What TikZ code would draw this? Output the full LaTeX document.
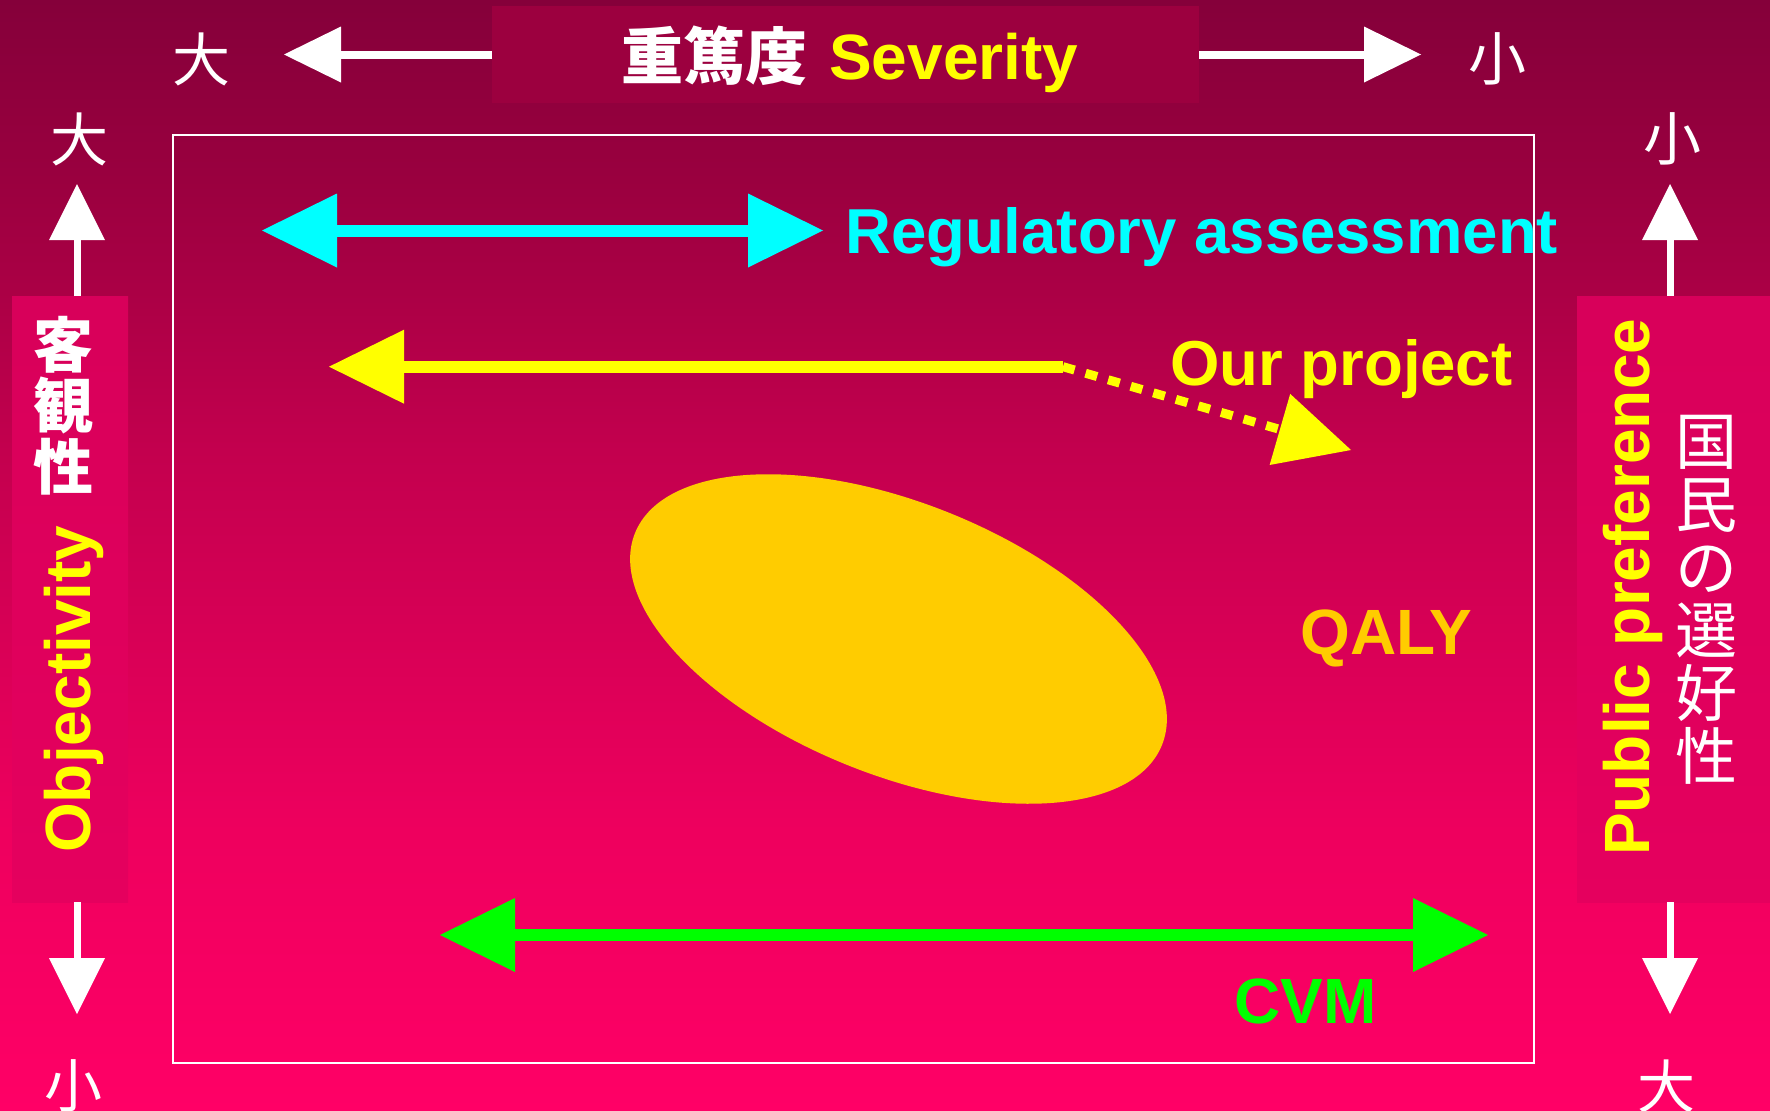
\documentclass[tikz,border=0pt]{standalone}
\usepackage{fontspec}
\setmainfont{Liberation Sans}
\newfontfamily\cjk{Noto Sans CJK JP}
\usetikzlibrary{arrows.meta,shapes.geometric}
\definecolor{bgtop}{HTML}{85003A}
\definecolor{bgca}{HTML}{9A003F}
\definecolor{bgcb}{HTML}{C3004E}
\definecolor{bgcc}{HTML}{EE005E}
\definecolor{bgbot}{HTML}{FF0066}
\definecolor{sdtop}{HTML}{D8005A}
\definecolor{sdbot}{HTML}{E5005E}
\definecolor{hdrbox}{HTML}{9C003F}
\definecolor{gold}{HTML}{FFCC00}
\definecolor{cyanc}{HTML}{00FFFF}
\definecolor{yellowc}{HTML}{FFFF00}
\definecolor{greenc}{HTML}{00FF00}
\pgfdeclareverticalshading{bgshade}{100bp}{color(0bp)=(bgbot); color(25bp)=(bgbot); color(37.6bp)=(bgcc); color(54.7bp)=(bgcb); color(66.9bp)=(bgca); color(75bp)=(bgtop); color(100bp)=(bgtop)}
\pgfdeclareverticalshading{sideshade}{100bp}{color(0bp)=(sdbot); color(25bp)=(sdbot); color(75bp)=(sdtop); color(100bp)=(sdtop)}
\tikzset{
  jlbl/.style={font=\cjk\fontsize{58}{58}\selectfont, text=white, inner sep=0pt},
  latin/.style={font=\bfseries\fontsize{64}{64}\selectfont, inner sep=0pt},
  darr/.style={line width=12pt, {Triangle[length=75pt,width=74pt,line width=0pt]}-{Triangle[length=75pt,width=74pt,line width=0pt]}},
  harr/.style={draw=white, line width=8pt, -{Triangle[length=57pt,width=56pt,line width=0pt]}},
  varr/.style={draw=white, line width=7pt, -{Triangle[length=56pt,width=56pt,line width=0pt]}},
  panel/.style={shading=sideshade, inner sep=0pt, outer sep=0pt, anchor=north west, minimum height=606pt},
}
\begin{document}
\begin{tikzpicture}[x=1pt,y=-1pt]
\fill[shading=bgshade] (0,0) rectangle (1770,1111);
\useasboundingbox (0,0) rectangle (1770,1111);

% header
\node[fill=hdrbox, minimum width=707pt, minimum height=97pt, inner sep=0pt, outer sep=0pt, anchor=north west] (hdr) at (492,6) {};
\node[anchor=base west, inner sep=0pt] (title) at (621,79)
  {{\cjk\bfseries\fontsize{62}{62}\selectfont\color{white}重篤度}\hspace{22pt}{\bfseries\fontsize{64}{64}\selectfont\color{yellowc}Severity}};
\coordinate (tl) at (284,54.5);
\coordinate (tr) at (1421,54.5);
\draw[harr] (hdr.west) -- (tl);
\draw[harr] (hdr.east) -- (tr);
\node[jlbl] (bigT) at (201,59) {大};
\node[jlbl] (smallT) at (1497,59) {小};

% frame
\node[draw=white, line width=2pt, minimum width=1361pt, minimum height=928pt, inner sep=0pt, anchor=north west] (frame) at (172,134) {};

% left panel
\node[panel, minimum width=116pt] (lbox) at (12,296) {};
\node[jlbl] (bigL) at (79,139) {大};
\node[jlbl] (smallL) at (73,1086) {小};
\coordinate (lup) at (77,184);
\coordinate (ldn) at (77,1014);
\draw[varr] (lbox.north -| lup) -- (lup);
\draw[varr] (lbox.south -| ldn) -- (ldn);
\node[font=\cjk\bfseries\fontsize{60}{61}\selectfont, text=white, inner sep=0pt, align=center] (objjp) at (64,406) {客\\観\\性};
\node[latin, text=yellowc, rotate=90, anchor=base west] (obj) at (90,853) {Objectivity};

% right panel
\node[panel, minimum width=193pt] (rbox) at (1577,296) {};
\node[jlbl] (smallR) at (1672,139) {小};
\node[jlbl] (bigR) at (1666,1086) {大};
\coordinate (rup) at (1670,184);
\coordinate (rdn) at (1670,1014);
\draw[varr] (rbox.north -| rup) -- (rup);
\draw[varr] (rbox.south -| rdn) -- (rdn);
\node[latin, text=yellowc, rotate=90, anchor=base west] (pub) at (1649,856) {Public preference};
\node[font=\cjk\fontsize{62}{63}\selectfont, text=white, inner sep=0pt, align=center] (pubjp) at (1706,600) {国\\民\\の\\選\\好\\性};

% regulatory assessment
\coordinate (cyl) at (262,230.5);
\coordinate (cyr) at (823,230.5);
\draw[darr, cyanc] (cyl) -- (cyr);
\node[latin, font=\bfseries\fontsize{63.5}{64}\selectfont, text=cyanc, anchor=base west] (reg) at (845,253) {Regulatory assessment};

% our project
\coordinate (yl) at (329,366.7);
\coordinate (ybend) at (1063,366.7);
\coordinate (ytip) at (1351,450);
\draw[yellowc, line width=12pt, {Triangle[length=75pt,width=74pt,line width=0pt]}-] (yl) -- (ybend);
\draw[yellowc, line width=9pt, dash pattern=on 12pt off 11.5pt, -{Triangle[length=74pt,width=74pt,line width=0pt]}] (ybend) -- (ytip);
\node[latin, font=\bfseries\fontsize{63.5}{64}\selectfont, text=yellowc, anchor=base west] (proj) at (1170,385) {Our project};

% QALY ellipse
\node[ellipse, fill=gold, minimum width=568pt, minimum height=272pt, inner sep=0pt, rotate=-21.9] (qell) at (898.5,639) {};
\node[latin, text=gold, anchor=base west] (qaly) at (1300,654) {QALY};

% CVM
\coordinate (gl) at (440,935);
\coordinate (gr) at (1488,935);
\draw[darr, greenc] (gl) -- (gr);
\node[latin, text=greenc, anchor=base west] (cvm) at (1234,1023) {CVM};
\end{tikzpicture}
\end{document}
